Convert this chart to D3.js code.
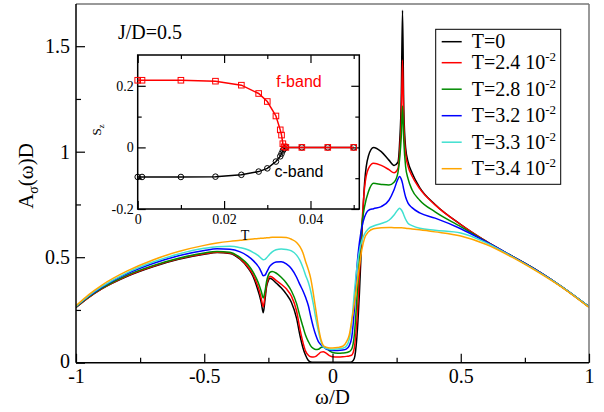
<!DOCTYPE html>
<html>
<head>
<meta charset="utf-8">
<script src="https://cdn.jsdelivr.net/npm/d3@7"></script>
<style>
  body { margin: 0; background: #fff; }
  svg { display: block; }
  svg text { font-family: "Liberation Serif", "Times New Roman", Times, "DejaVu Serif", serif; fill: #000; }
  svg text.sans { font-family: "Liberation Sans", Arial, Helvetica, "DejaVu Sans", sans-serif; }
</style>
</head>
<body>
<svg id="chart" width="604" height="412"></svg>
<script>
// ---- spectral function A_sigma(omega) D, shared frequency grid ----
const omega = [
  -1.0, -0.95, -0.9, -0.8, -0.7, -0.6, -0.5, -0.45, -0.4, -0.36,
  -0.33, -0.31, -0.295, -0.285, -0.277, -0.27, -0.263, -0.257, -0.25, -0.244,
  -0.235, -0.22, -0.2, -0.18, -0.16, -0.14, -0.127, -0.115, -0.105, -0.094,
  -0.085, -0.075, -0.065, -0.055, -0.045, -0.036, -0.025, -0.01, 0.0, 0.02,
  0.04, 0.055, 0.065, 0.075, 0.085, 0.095, 0.105, 0.115, 0.125, 0.14,
  0.16, 0.19, 0.22, 0.24, 0.255, 0.262, 0.268, 0.273, 0.278, 0.285,
  0.295, 0.31, 0.34, 0.4, 0.5, 0.6, 0.7, 0.8, 0.9, 1.0
];

const specT0 = [
  0.262, 0.31, 0.35, 0.41, 0.455, 0.49, 0.514, 0.522, 0.518, 0.49,
  0.45, 0.41, 0.36, 0.32, 0.28, 0.237, 0.30, 0.36, 0.39, 0.40,
  0.395, 0.378, 0.355, 0.325, 0.285, 0.21, 0.13, 0.07, 0.035, 0.01,
  0.003, 0.002, 0.002, 0.002, 0.002, 0.002, 0.002, 0.002, 0.002, 0.002,
  0.002, 0.002, 0.002, 0.004, 0.02, 0.12, 0.33, 0.62, 0.85, 0.98,
  1.02, 1.0, 0.96, 0.935, 0.95, 1.05, 1.25, 1.67, 1.2, 1.02,
  0.95, 0.9, 0.83, 0.75, 0.655, 0.575, 0.505, 0.435, 0.355, 0.265
];
const specT24 = [
  0.263, 0.31, 0.35, 0.412, 0.457, 0.492, 0.516, 0.524, 0.52, 0.493,
  0.455, 0.418, 0.375, 0.34, 0.30, 0.265, 0.32, 0.37, 0.398, 0.41,
  0.405, 0.39, 0.372, 0.35, 0.315, 0.245, 0.16, 0.095, 0.055, 0.035,
  0.028, 0.027, 0.03, 0.04, 0.05, 0.052, 0.045, 0.032, 0.028, 0.027,
  0.028, 0.03, 0.032, 0.036, 0.07, 0.2, 0.42, 0.66, 0.83, 0.92,
  0.945, 0.935, 0.915, 0.9, 0.92, 1.0, 1.15, 1.435, 1.13, 0.99,
  0.93, 0.885, 0.825, 0.748, 0.655, 0.575, 0.505, 0.435, 0.355, 0.265
];
const specT28 = [
  0.264, 0.312, 0.352, 0.415, 0.46, 0.495, 0.52, 0.527, 0.524, 0.498,
  0.465, 0.43, 0.395, 0.365, 0.335, 0.307, 0.34, 0.385, 0.415, 0.428,
  0.432, 0.425, 0.405, 0.378, 0.34, 0.28, 0.22, 0.17, 0.13, 0.1,
  0.08, 0.068, 0.062, 0.064, 0.072, 0.076, 0.07, 0.055, 0.048, 0.045,
  0.046, 0.048, 0.052, 0.065, 0.13, 0.3, 0.5, 0.66, 0.74, 0.81,
  0.85, 0.845, 0.842, 0.855, 0.9, 0.97, 1.07, 1.217, 1.05, 0.93,
  0.87, 0.82, 0.77, 0.715, 0.645, 0.573, 0.505, 0.435, 0.355, 0.265
];
const specT32 = [
  0.266, 0.315, 0.357, 0.422, 0.47, 0.507, 0.532, 0.54, 0.538, 0.525,
  0.505, 0.485, 0.465, 0.448, 0.428, 0.412, 0.415, 0.428, 0.445, 0.458,
  0.468, 0.477, 0.479, 0.468, 0.445, 0.405, 0.37, 0.34, 0.31, 0.27,
  0.22, 0.17, 0.13, 0.1, 0.085, 0.075, 0.065, 0.06, 0.058, 0.058,
  0.06, 0.066, 0.08, 0.12, 0.25, 0.45, 0.57, 0.645, 0.69, 0.722,
  0.73, 0.74, 0.77, 0.82, 0.87, 0.882, 0.87, 0.85, 0.82, 0.785,
  0.755, 0.735, 0.71, 0.685, 0.635, 0.572, 0.505, 0.435, 0.355, 0.265
];
const specT33 = [
  0.267, 0.318, 0.36, 0.427, 0.477, 0.515, 0.542, 0.55, 0.552, 0.545,
  0.535, 0.523, 0.512, 0.503, 0.494, 0.488, 0.49, 0.497, 0.507, 0.515,
  0.525, 0.535, 0.539, 0.537, 0.53, 0.51, 0.485, 0.45, 0.415, 0.38,
  0.34, 0.28, 0.21, 0.15, 0.1, 0.075, 0.067, 0.064, 0.063, 0.065,
  0.068, 0.08, 0.11, 0.19, 0.33, 0.45, 0.53, 0.58, 0.61, 0.635,
  0.648, 0.66, 0.675, 0.7, 0.725, 0.732, 0.725, 0.715, 0.7, 0.68,
  0.66, 0.65, 0.637, 0.628, 0.615, 0.568, 0.503, 0.433, 0.355, 0.265
];
const specT34 = [
  0.27, 0.323, 0.367, 0.435, 0.487, 0.527, 0.556, 0.567, 0.575, 0.58,
  0.584, 0.586, 0.588, 0.589, 0.59, 0.59, 0.591, 0.592, 0.592, 0.593,
  0.594, 0.595, 0.595, 0.593, 0.585, 0.57, 0.55, 0.52, 0.48, 0.44,
  0.40, 0.33, 0.25, 0.17, 0.11, 0.082, 0.073, 0.07, 0.07, 0.072,
  0.078, 0.1, 0.13, 0.2, 0.28, 0.37, 0.46, 0.54, 0.59, 0.62,
  0.635, 0.64, 0.641, 0.64, 0.64, 0.64, 0.64, 0.639, 0.638, 0.637,
  0.636, 0.634, 0.63, 0.62, 0.6, 0.56, 0.5, 0.43, 0.352, 0.262
];

const seriesLabels = ["T=0", "T=2.4 10", "T=2.8 10", "T=3.2 10", "T=3.3 10", "T=3.4 10"];
const seriesExponents = ["", "-2", "-2", "-2", "-2", "-2"];
const seriesColors = ["#000000", "#ff0000", "#008b00", "#0000ff", "#40e0d0", "#ffa500"];
const seriesValues = [specT0, specT24, specT28, specT32, specT33, specT34];

// main axis ticks
const xMajorTicks = [-1, -0.5, 0, 0.5, 1];
const xMinorTicks = [-0.75, -0.25, 0.25, 0.75];
const yMajorTicks = [0, 0.5, 1, 1.5];
const yMinorTicks = [0.25, 0.75, 1.25];

// ---- inset: S_z versus T ----
const insetT = [0, 0.001, 0.01, 0.018, 0.024, 0.028, 0.030, 0.032, 0.033, 0.0333, 0.0336, 0.0339, 0.0343, 0.038, 0.044, 0.05];
const szFBand = [0.218, 0.218, 0.218, 0.215, 0.202, 0.175, 0.149, 0.102, 0.057, 0.040, 0.012, 0.002, 0, 0, 0, 0];
const szCBand = [-0.096, -0.096, -0.096, -0.095, -0.089, -0.0785, -0.068, -0.046, -0.029, -0.02, -0.01, -0.004, 0, 0, 0, 0];
const insetXMajor = [0, 0.02, 0.04];
const insetXMinor = [0.01, 0.03, 0.05];
const insetYMajor = [-0.2, 0, 0.2];
const insetYMinor = [-0.1, 0.1];

// ---------------------------------------------------------------
const SERIF = '"Liberation Serif", "Times New Roman", Times, "DejaVu Serif", serif';
const svg = d3.select("#chart");
const fmt = d => String(d);

const plot = { left: 76, right: 589, top: 4, bottom: 362.7 };
const x = d3.scaleLinear().domain([-1, 1]).range([plot.left, plot.right]);
const y = d3.scaleLinear().domain([0, 1.7]).range([plot.bottom, plot.top]);

svg.append("clipPath").attr("id", "plotClip")
  .append("rect")
  .attr("x", plot.left).attr("y", plot.top)
  .attr("width", plot.right - plot.left).attr("height", plot.bottom - plot.top);

// curves, low temperature first so warmer sets sit on top
const line = d3.line()
  .x(d => x(d[0]))
  .y(d => y(d[1]))
  .curve(d3.curveMonotoneX);

const curves = svg.append("g").attr("clip-path", "url(#plotClip)");
seriesValues.forEach((vals, i) => {
  curves.append("path")
    .datum(omega.map((w, k) => [w, vals[k]]))
    .attr("fill", "none")
    .attr("stroke", seriesColors[i])
    .attr("stroke-width", 1.5)
    .attr("stroke-linejoin", "round")
    .attr("d", line);
});

// frame: black axes on left/bottom, grey on top/right
svg.append("line").attr("x1", plot.left).attr("x2", plot.right).attr("y1", plot.top).attr("y2", plot.top)
  .attr("stroke", "#777").attr("stroke-width", 1.5);
svg.append("line").attr("x1", plot.right).attr("x2", plot.right).attr("y1", plot.top).attr("y2", plot.bottom)
  .attr("stroke", "#777").attr("stroke-width", 1.5);

function styleAxis(g, size) {
  g.attr("font-family", SERIF);
  g.select(".domain").remove();
  g.selectAll(".tick line").attr("stroke", "#000").attr("stroke-width", 1.2);
  g.selectAll(".tick text").style("font-family", SERIF).attr("font-size", size).attr("fill", "#000");
}

svg.append("g").attr("transform", `translate(0,${plot.bottom})`)
  .call(d3.axisBottom(x).tickValues(xMajorTicks).tickFormat(fmt).tickSizeInner(-9).tickSizeOuter(0).tickPadding(6))
  .call(g => styleAxis(g, 20));
svg.append("g").attr("transform", `translate(0,${plot.bottom})`)
  .call(d3.axisBottom(x).tickValues(xMinorTicks).tickFormat("").tickSizeInner(-5).tickSizeOuter(0))
  .call(g => styleAxis(g, 20));
svg.append("g").attr("transform", `translate(${plot.left},0)`)
  .call(d3.axisLeft(y).tickValues(yMajorTicks).tickFormat(fmt).tickSizeInner(-9).tickSizeOuter(0).tickPadding(6))
  .call(g => styleAxis(g, 20))
  .call(g => g.selectAll(".tick text").filter(d => d === 0).attr("dy", "0.25em"));
svg.append("g").attr("transform", `translate(${plot.left},0)`)
  .call(d3.axisLeft(y).tickValues(yMinorTicks).tickFormat("").tickSizeInner(-5).tickSizeOuter(0))
  .call(g => styleAxis(g, 20));

svg.append("line").attr("x1", plot.left).attr("x2", plot.right).attr("y1", plot.bottom).attr("y2", plot.bottom)
  .attr("stroke", "#000").attr("stroke-width", 1.5);
svg.append("line").attr("x1", plot.left).attr("x2", plot.left).attr("y1", plot.top).attr("y2", plot.bottom)
  .attr("stroke", "#000").attr("stroke-width", 1.5);

// axis titles
svg.append("text")
  .attr("x", (plot.left + plot.right) / 2).attr("y", 404)
  .attr("text-anchor", "middle").attr("font-size", 21)
  .text("ω/D");

const yTitle = svg.append("text")
  .attr("transform", "translate(33,176) rotate(-90)")
  .attr("text-anchor", "middle").attr("font-size", 21);
yTitle.append("tspan").text("A");
yTitle.append("tspan").attr("font-size", 14).attr("dy", 5).text("σ");
yTitle.append("tspan").attr("dy", -5).text("(ω)D");

svg.append("text").attr("x", 118).attr("y", 38.5).attr("font-size", 20).text("J/D=0.5");

// legend
const legend = svg.append("g");
legend.append("rect")
  .attr("x", 435.7).attr("y", 29.3).attr("width", 125).attr("height", 155)
  .attr("fill", "#fff").attr("stroke", "#000").attr("stroke-width", 1);
seriesLabels.forEach((lab, i) => {
  const ry = i === 0 ? 41.7 : 62.7 + (i - 1) * 26.5;
  legend.append("line")
    .attr("x1", 441.7).attr("x2", 461.7).attr("y1", ry).attr("y2", ry)
    .attr("stroke", seriesColors[i]).attr("stroke-width", 1.5);
  const t = legend.append("text").attr("x", 471.7).attr("y", ry + 6.6).attr("font-size", 20);
  t.append("tspan").text(lab);
  if (seriesExponents[i]) {
    t.append("tspan").attr("font-size", 13).attr("dy", -8).text(seriesExponents[i]);
  }
});

// ---- inset ----
const ins = { left: 137.7, right: 359.3, top: 55, bottom: 209 };
const ix = d3.scaleLinear().domain([0, 0.0513]).range([ins.left, ins.right]);
const iy = d3.scaleLinear().domain([-0.2, 0.3]).range([ins.bottom, ins.top]);

svg.append("rect")
  .attr("x", ins.left).attr("y", ins.top)
  .attr("width", ins.right - ins.left).attr("height", ins.bottom - ins.top)
  .attr("fill", "#fff");

function insetAxis(axisGen, tx, ty, vals, size, labelled, pad) {
  svg.append("g").attr("transform", `translate(${tx},${ty})`)
    .call(axisGen.tickValues(vals).tickFormat(labelled ? fmt : "").tickSizeInner(-size).tickSizeOuter(0).tickPadding(pad || 3))
    .call(g => styleAxis(g, 14));
}
insetAxis(d3.axisBottom(ix), 0, ins.bottom, insetXMajor, 8, true, 5);
insetAxis(d3.axisBottom(ix), 0, ins.bottom, insetXMinor, 4, false);
insetAxis(d3.axisTop(ix), 0, ins.top, insetXMajor, 8, false);
insetAxis(d3.axisTop(ix), 0, ins.top, insetXMinor, 4, false);
insetAxis(d3.axisLeft(iy), ins.left, 0, insetYMajor, 8, true, 4);
insetAxis(d3.axisLeft(iy), ins.left, 0, insetYMinor, 4, false);
insetAxis(d3.axisRight(iy), ins.right, 0, insetYMajor, 8, false);
insetAxis(d3.axisRight(iy), ins.right, 0, insetYMinor, 4, false);

svg.append("rect")
  .attr("x", ins.left).attr("y", ins.top)
  .attr("width", ins.right - ins.left).attr("height", ins.bottom - ins.top)
  .attr("fill", "none").attr("stroke", "#000").attr("stroke-width", 1.5);

const iline = d3.line().x(d => ix(d[0])).y(d => iy(d[1]));
const cPts = insetT.map((t, k) => [t, szCBand[k]]);
const fPts = insetT.map((t, k) => [t, szFBand[k]]);

svg.append("path").datum(cPts).attr("d", iline)
  .attr("fill", "none").attr("stroke", "#000").attr("stroke-width", 1.5);
svg.append("g").selectAll("circle").data(cPts).join("circle")
  .attr("cx", d => ix(d[0])).attr("cy", d => iy(d[1])).attr("r", 2.8)
  .attr("fill", "none").attr("stroke", "#000").attr("stroke-width", 1);

svg.append("path").datum(fPts).attr("d", iline)
  .attr("fill", "none").attr("stroke", "#ff0000").attr("stroke-width", 1.5);
svg.append("g").selectAll("rect").data(fPts).join("rect")
  .attr("x", d => ix(d[0]) - 2.8).attr("y", d => iy(d[1]) - 2.8)
  .attr("width", 5.6).attr("height", 5.6)
  .attr("fill", "none").attr("stroke", "#ff0000").attr("stroke-width", 1);

svg.append("text").attr("class", "sans").attr("x", 299).attr("y", 87).attr("text-anchor", "middle")
  .attr("font-size", 16).style("fill", "#ff0000").text("f-band");
svg.append("text").attr("class", "sans").attr("x", 299).attr("y", 177).attr("text-anchor", "middle")
  .attr("font-size", 16).text("c-band");

svg.append("text").attr("x", 245).attr("y", 239.5).attr("text-anchor", "middle")
  .attr("font-size", 14).text("T");

const szTitle = svg.append("text")
  .attr("transform", "translate(101,130) rotate(-90)")
  .attr("text-anchor", "middle").attr("font-size", 13);
szTitle.append("tspan").text("S");
szTitle.append("tspan").attr("font-size", 9).attr("dy", 3).text("z");
</script>
</body>
</html>
